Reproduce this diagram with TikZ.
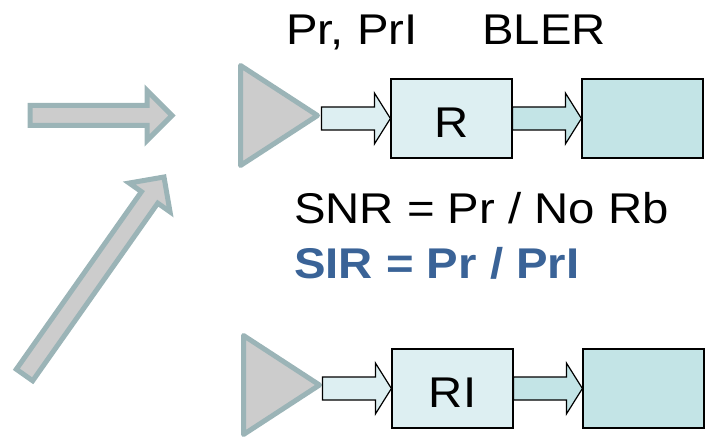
\documentclass[tikz,border=0pt]{standalone}
\usepackage{fontspec}
\setmainfont{Liberation Sans}[FakeStretch=1.1]
\usepackage{tikz}
\usetikzlibrary{calc}

\definecolor{ampgray}{HTML}{CCCCCC}
\definecolor{ampline}{HTML}{9BB4B7}
\definecolor{lightcyan}{HTML}{DDEFF2}
\definecolor{midcyan}{HTML}{C3E4E6}
\definecolor{sirblue}{HTML}{3A6397}

\newcommand{\fatarrow}[6][]{%
  \coordinate (fa-hb) at ($(#3)!#6!(#2)$);
  \draw[#1] ($(#2)!#4!90:(#3)$) -- ($(fa-hb)!#4!90:(#3)$) -- ($(fa-hb)!#5!90:(#3)$) -- (#3)
    -- ($(fa-hb)!#5!-90:(#3)$) -- ($(fa-hb)!#4!-90:(#3)$) -- ($(#2)!#4!-90:(#3)$) -- cycle;}

\begin{document}
\begin{tikzpicture}[
    x=1pt,y=-1pt,
    font=\fontsize{43}{49}\selectfont,
    amp/.style={draw=ampline,fill=ampgray,line width=5pt,line join=round},
    bigarrow/.style={draw=ampline,fill=ampgray,line width=5pt,line join=miter},
    block/.style={draw,line width=1.2pt,minimum width=121pt,minimum height=79pt,inner sep=0pt,text height=37pt,text depth=0pt},
    conn/.style={draw,line width=1.2pt,line join=miter},
    txt/.style={inner sep=0pt,anchor=base west}
]
\useasboundingbox (0,0) rectangle (709,441);
\coordinate (inA) at (30,115.5);
\coordinate (inA-tip) at (172,115.5);
\coordinate (inB) at (24.5,375);
\coordinate (inB-tip) at (164,177);
\fatarrow[bigarrow]{inA}{inA-tip}{10pt}{25pt}{25pt}
\fatarrow[bigarrow]{inB}{inB-tip}{10pt}{25pt}{25pt}

\draw[amp] (240.5,65.5) -- (240.5,165.5) -- (317.5,115.5) -- cycle;
\coordinate (ampT) at (321.5,118.5);
\draw[amp] (243.5,335.5) -- (243.5,434.5) -- (319.5,385) -- cycle;
\coordinate (ampB) at (322.5,388.5);

\node[block,fill=lightcyan] (rx) at (451.5,118.5) {R};
\node[block,fill=midcyan] (out) at (642.5,118.5) {};
\node[block,fill=lightcyan] (rxi) at (452.5,388.5) {RI};
\node[block,fill=midcyan] (outi) at (643.5,388.5) {};

\fatarrow[conn,fill=lightcyan]{ampT}{rx.west}{11.5pt}{25.5pt}{16pt}
\fatarrow[conn,fill=midcyan]{rx.east}{out.west}{11.5pt}{25.5pt}{16pt}
\fatarrow[conn,fill=lightcyan]{ampB}{rxi.west}{11.5pt}{25.5pt}{16pt}
\fatarrow[conn,fill=midcyan]{rxi.east}{outi.west}{11.5pt}{25.5pt}{16pt}

\node[txt] (pwr) at (286,45) {Pr, PrI};
\node[txt] (bler) at (482,45) {BLER};
\node[txt] (snr) at (294,223) {SNR = Pr / No Rb};
\node[txt,text=sirblue,font=\fontsize{43}{49}\selectfont\bfseries] (sir) at (294,278) {SIR = Pr / PrI};
\end{tikzpicture}
\end{document}
